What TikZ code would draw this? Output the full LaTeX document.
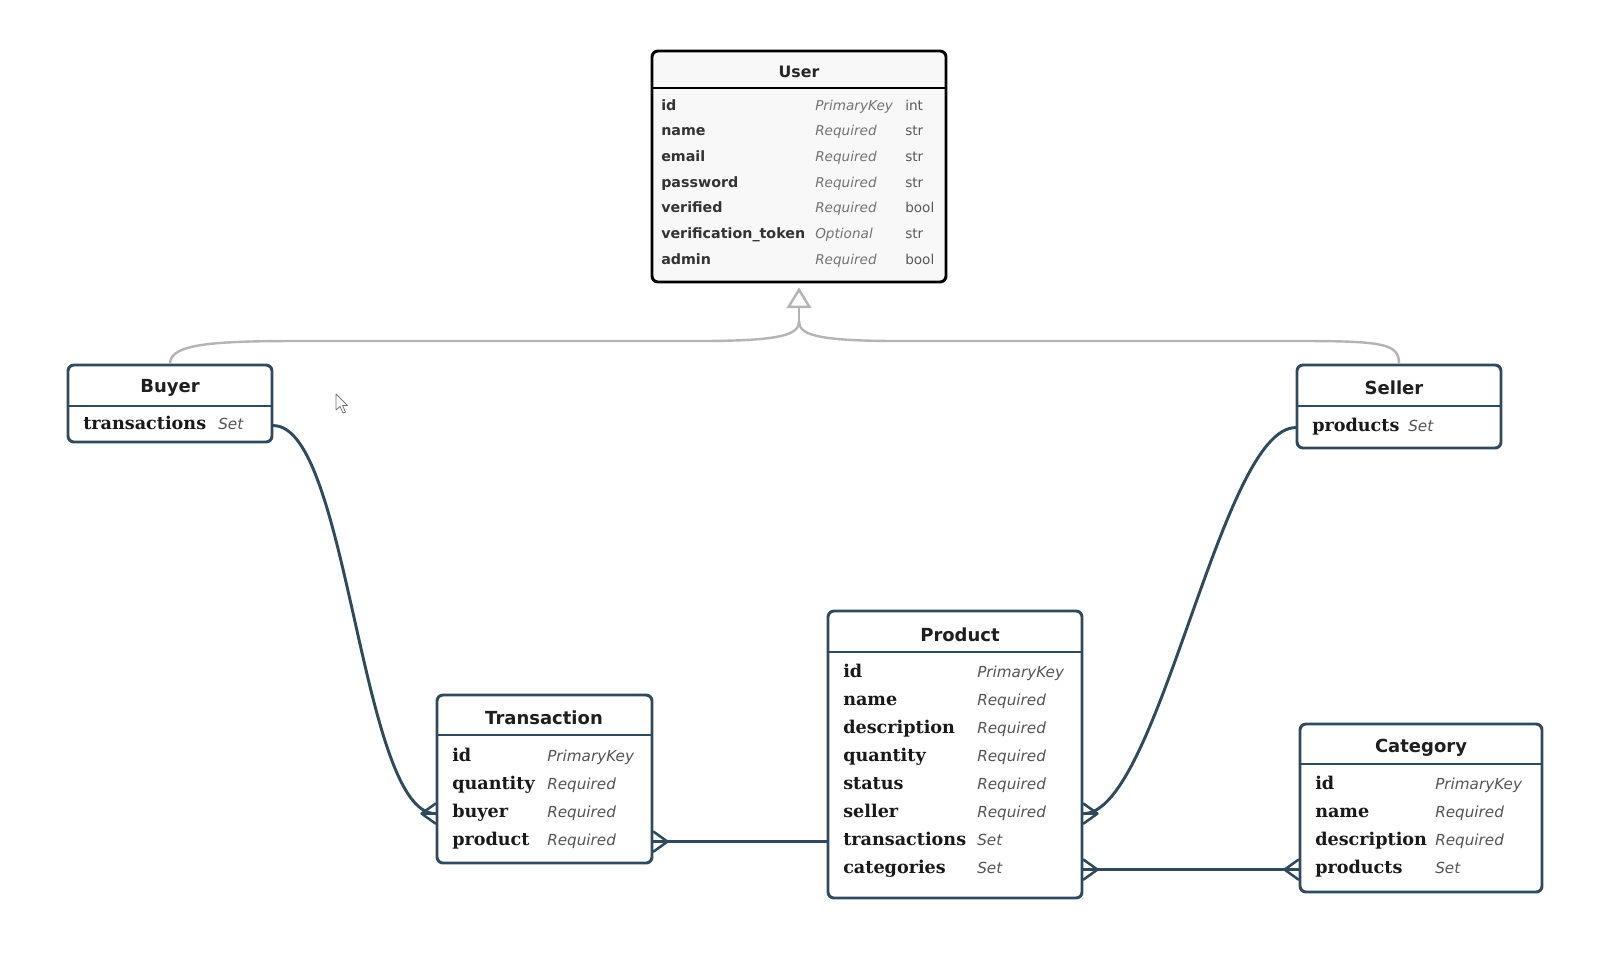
\documentclass[tikz,border=0pt]{standalone}
\usepackage{fontspec}
\setmainfont{DejaVu Sans}
\newfontfamily\serifb{DejaVu Serif}
\usetikzlibrary{arrows.meta,fit}
\definecolor{slate}{HTML}{2E4A5C}
\definecolor{inhgray}{HTML}{B4B4B4}
\definecolor{modgray}{HTML}{555555}
\definecolor{ufill}{HTML}{F8F8F8}
\begin{document}
\begin{tikzpicture}[x=0.75pt,y=-0.75pt,
  ent/.style={draw=slate,line width=2.2pt,rounded corners=4.5pt,fill=white,inner sep=0pt},
  uent/.style={draw=black,line width=2.2pt,rounded corners=4.5pt,fill=ufill,inner sep=0pt},
  sepline/.style={slate,line width=2.2pt},
  usepline/.style={black,line width=2.2pt},
  title/.style={font=\fontsize{13.5}{15}\selectfont\bfseries,text=black!88,inner sep=0pt,yshift=-1.8pt},
  utitle/.style={font=\fontsize{11.8}{13}\selectfont\bfseries,text=black!85,inner sep=0pt,yshift=-0.8pt},
  fname/.style={anchor=west,inner sep=0pt,text height=1.5ex,text depth=.3ex,yshift=-1.2pt,font=\serifb\fontsize{13.2}{15}\selectfont\bfseries,text=black!90},
  fmod/.style={anchor=west,inner sep=0pt,text height=1.5ex,text depth=.3ex,yshift=-1.2pt,font=\fontsize{11.4}{13}\selectfont\itshape,text=modgray},
  uname/.style={anchor=west,inner sep=0pt,text height=1.5ex,text depth=.3ex,yshift=-0.8pt,font=\fontsize{10.7}{12}\selectfont\bfseries,text=black!80},
  umod/.style={anchor=west,inner sep=0pt,text height=1.5ex,text depth=.3ex,yshift=-0.8pt,font=\fontsize{10.2}{12}\selectfont\itshape,text=black!55},
  utype/.style={anchor=west,inner sep=0pt,text height=1.5ex,text depth=.3ex,yshift=-0.8pt,font=\fontsize{10.2}{12}\selectfont,text=black!65},
  conn/.style={draw=slate,line width=2.2pt,line cap=round},
  inh/.style={draw=inhgray,line width=1.8pt},
  crowin/.pic={\draw[draw=slate,line width=1.9pt,line cap=round] (-14,0) -- (0,-10) (-14,0) -- (0,10) (-14,0) -- (0,0);}
]
\useasboundingbox (0,0) rectangle (1603,957);
\fill[white] (0,0) rectangle (1603,957);

% ---------- User ----------
\node[uent,fit={(652,51) (946,282)}] (user) {};
\draw[usepline] (652,88) -- (946,88);
\node[utitle] (user-t) at (799,71) {User};
\node[uname] (u1) at (661,105) {id};
\node[umod] (u1m) at (815,105) {PrimaryKey};
\node[utype] (u1t) at (905,105) {int};
\node[uname] (u2) at (661,130) {name};
\node[umod] (u2m) at (815,130) {Required};
\node[utype] (u2t) at (905,130) {str};
\node[uname] (u3) at (661,156) {email};
\node[umod] (u3m) at (815,156) {Required};
\node[utype] (u3t) at (905,156) {str};
\node[uname] (u4) at (661,182) {password};
\node[umod] (u4m) at (815,182) {Required};
\node[utype] (u4t) at (905,182) {str};
\node[uname] (u5) at (661,207) {verified};
\node[umod] (u5m) at (815,207) {Required};
\node[utype] (u5t) at (905,207) {bool};
\node[uname] (u6) at (661,233) {verification\_token};
\node[umod] (u6m) at (815,233) {Optional};
\node[utype] (u6t) at (905,233) {str};
\node[uname] (u7) at (661,259) {admin};
\node[umod] (u7m) at (815,259) {Required};
\node[utype] (u7t) at (905,259) {bool};

% ---------- Buyer ----------
\node[ent,fit={(68,365) (272,442)}] (buyer) {};
\draw[sepline] (68,406) -- (272,406);
\node[title] (buyer-t) at (170,385) {Buyer};
\node[fname] (bt) at (83,424) {transactions};
\node[fmod] (btm) at (218,424) {Set};

% ---------- Seller ----------
\node[ent,fit={(1297,365) (1501,448)}] (seller) {};
\draw[sepline] (1297,406) -- (1501,406);
\node[title] (seller-t) at (1394,385) {Seller};
\node[fname] (sp) at (1312,426) {products};
\node[fmod] (spm) at (1408,426) {Set};

% ---------- Transaction ----------
\node[ent,fit={(437,695) (652,863)}] (trans) {};
\draw[sepline] (437,735) -- (652,735);
\node[title] (trans-t) at (544,715) {Transaction};
\node[fname] (t1) at (452,756) {id};
\node[fmod] (t1m) at (547,756) {PrimaryKey};
\node[fname] (t2) at (452,784) {quantity};
\node[fmod] (t2m) at (547,784) {Required};
\node[fname] (t3) at (452,812) {buyer};
\node[fmod] (t3m) at (547,812) {Required};
\node[fname] (t4) at (452,840) {product};
\node[fmod] (t4m) at (547,840) {Required};

% ---------- Product ----------
\node[ent,fit={(828,611) (1082,898)}] (prod) {};
\draw[sepline] (828,652) -- (1082,652);
\node[title] (prod-t) at (960,632) {Product};
\node[fname] (p1) at (843,672) {id};
\node[fmod] (p1m) at (977,672) {PrimaryKey};
\node[fname] (p2) at (843,700) {name};
\node[fmod] (p2m) at (977,700) {Required};
\node[fname] (p3) at (843,728) {description};
\node[fmod] (p3m) at (977,728) {Required};
\node[fname] (p4) at (843,756) {quantity};
\node[fmod] (p4m) at (977,756) {Required};
\node[fname] (p5) at (843,784) {status};
\node[fmod] (p5m) at (977,784) {Required};
\node[fname] (p6) at (843,812) {seller};
\node[fmod] (p6m) at (977,812) {Required};
\node[fname] (p7) at (843,840) {transactions};
\node[fmod] (p7m) at (977,840) {Set};
\node[fname] (p8) at (843,868) {categories};
\node[fmod] (p8m) at (977,868) {Set};

% ---------- Category ----------
\node[ent,fit={(1300,724) (1542,892)}] (cat) {};
\draw[sepline] (1300,764) -- (1542,764);
\node[title] (cat-t) at (1421,745) {Category};
\node[fname] (c1) at (1315,784) {id};
\node[fmod] (c1m) at (1435,784) {PrimaryKey};
\node[fname] (c2) at (1315,812) {name};
\node[fmod] (c2m) at (1435,812) {Required};
\node[fname] (c3) at (1315,840) {description};
\node[fmod] (c3m) at (1435,840) {Required};
\node[fname] (c4) at (1315,868) {products};
\node[fmod] (c4m) at (1435,868) {Set};

% ---------- inheritance ----------
\coordinate (junc) at (799,321);
\draw[inh] (buyer.north) .. controls +(0,-20) and (215,341) .. (300,341)
  -- (700,341) .. controls (785,341) and (799,334) .. (junc);
\draw[inh] (seller.north) .. controls +(0,-20) and (1383,341) .. (1298,341)
  -- (898,341) .. controls (813,341) and (799,334) .. (junc);
\draw[inh,-{Triangle[open,length=15.5pt,width=18.5pt,line width=1.8pt]},shorten >=3pt] (junc) -- (user.south);

% ---------- relations ----------
\draw[conn] (buyer.east |- bt) .. controls +(75,0) and +(-75,0) .. (trans.west |- t3);
\pic at (trans.west |- t3) {crowin};

\draw[conn] (trans.east |- t4) -- (prod.west |- p7);
\pic[rotate=180] at (trans.east |- t4) {crowin};

\draw[conn] (seller.west |- sp) .. controls +(-75,0) and +(75,0) .. (prod.east |- p6);
\pic[rotate=180] at (prod.east |- p6) {crowin};

\draw[conn] (prod.east |- p8) -- (cat.west |- c4);
\pic[rotate=180] at (prod.east |- p8) {crowin};
\pic at (cat.west |- c4) {crowin};

% ---------- mouse pointer ----------
\draw[black!55,fill=white,line width=0.6pt,line join=round]
  (336,394) -- (336,410) -- (340,406.5) -- (343,413) -- (345.5,412) -- (342.5,405.5) -- (347.5,405.5) -- cycle;
\end{tikzpicture}
\end{document}
